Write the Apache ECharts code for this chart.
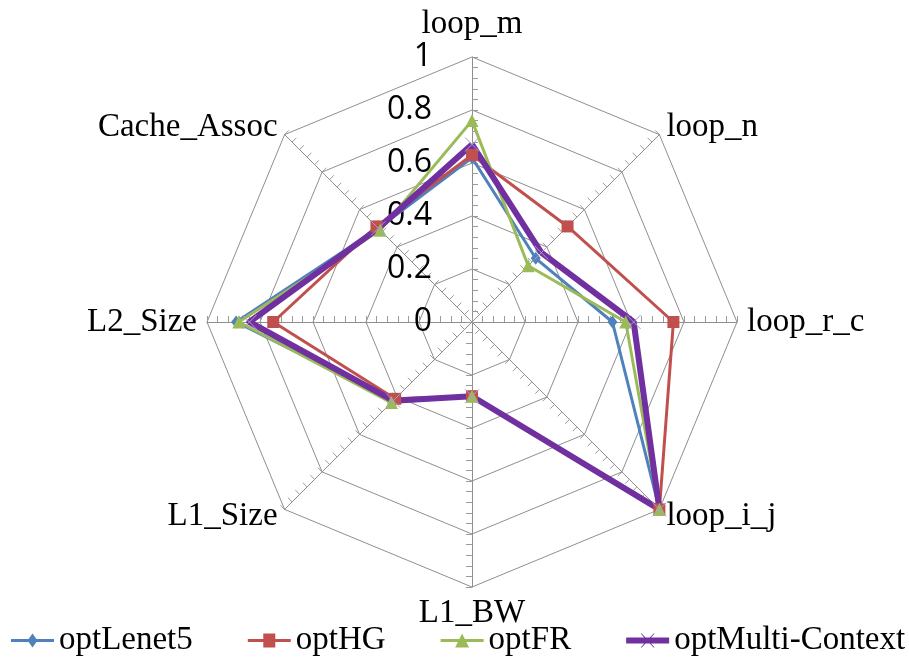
<!DOCTYPE html>
<html><head><meta charset="utf-8">
<script src="https://cdn.jsdelivr.net/npm/echarts@6/dist/echarts.min.js"></script>
<style>html,body{margin:0;padding:0;background:#fff}#c{width:909px;height:658px}</style>
</head><body><div id="c"></div>
<script>
// Axes in clockwise order starting from the top
const categories = ['loop_m', 'loop_n', 'loop_r_c', 'loop_i_j', 'L1_BW', 'L1_Size', 'L2_Size', 'Cache_Assoc'];
const optLenet5 = [0.62, 0.34, 0.53, 1.00, 0.28, 0.42, 0.89, 0.50];
const optHG = [0.63, 0.51, 0.76, 1.00, 0.28, 0.41, 0.75, 0.51];
const optFR = [0.76, 0.30, 0.58, 1.00, 0.28, 0.43, 0.88, 0.49];
const optMultiContext = [0.67, 0.37, 0.61, 1.00, 0.28, 0.42, 0.84, 0.50];
const seriesNames = ['optLenet5', 'optHG', 'optFR', 'optMulti-Context'];
const scaleLabels = ['0', '0.2', '0.4', '0.6', '0.8', '1'];

// ECharts places radar indicators counter-clockwise; reorder to draw clockwise
const order = [0, 7, 6, 5, 4, 3, 2, 1];
const re = arr => order.map(i => arr[i]);

const serif = 'Liberation Serif';
const gridColor = '#8f8f8f';
// side of the minor tick marks for each axis (clockwise order)
const tickSide = [-1, 1, 1, -1, -1, -1, -1, -1];

const indicatorsMain = re(categories).map((n, i) => {
  const o = { name: n, min: 0, max: 1 };
  if (i === 0) o.axisLabel = { show: true };
  return o;
});
const sideRe = re(tickSide);
const indicatorsTicks = re(categories).map((n, i) => ({ name: n, min: 0, max: 1, axisTick: { length: 6 * sideRe[i] } }));

const xPath = 'path://M0,0L10,10M10,0L0,10';
const legendText = {
  fontFamily: serif, fontSize: 33, color: '#000',
  rich: { s: { fontFamily: serif, fontSize: 33, color: '#000' } }
};

const chart = echarts.init(document.getElementById('c'), null, { renderer: 'canvas' });
chart.setOption({
  backgroundColor: '#fff',
  animation: false,
  textStyle: { fontFamily: serif },
  legend: {
    type: 'plain',
    orient: 'horizontal',
    left: 6,
    top: 619,
    width: 903,
    itemWidth: 43,
    itemHeight: 14,
    itemGap: 55,
    formatter: name => '{s|' + name + '}',
    textStyle: legendText,
    data: [
      { name: seriesNames[0], icon: 'path://M0,5.5H43V8.5H0Z M21.5,0L26.5,7L21.5,14L16.5,7Z', itemStyle: { color: '#4F81BD', borderWidth: 0 } },
      { name: seriesNames[1], icon: 'path://M0,5.5H43V8.5H0Z M15.5,0H27.5V14H15.5Z', itemStyle: { color: '#C0504D', borderWidth: 0 } },
      { name: seriesNames[2], icon: 'path://M0,5.5H43V8.5H0Z M21.5,0L28.5,14L14.5,14Z', itemStyle: { color: '#9BBB59', borderWidth: 0 } },
      { name: seriesNames[3], icon: 'path://M0,4H43V10H0Z M14.5,0L15.5,0L21.5,6.3L27.5,0L28.5,0L22.2,7L28.5,14L27.5,14L21.5,7.7L15.5,14L14.5,14L20.8,7Z', itemStyle: { color: '#7030A0', borderWidth: 0 } }
    ]
  },
  radar: [
    {
      center: [472, 322],
      radius: 265,
      startAngle: 90,
      shape: 'polygon',
      splitNumber: 5,
      axisName: { color: '#000', fontFamily: serif, fontSize: 33 },
      axisNameGap: 10,
      splitLine: { lineStyle: { color: gridColor, width: 1 } },
      splitArea: { show: false },
      axisLine: { lineStyle: { color: gridColor, width: 1 } },
      axisTick: { show: false },
      axisLabel: {
        show: false,
        color: '#000',
        fontFamily: 'Open Sans',
        fontSize: 32,
        margin: 40,
        formatter: v => scaleLabels[Math.round(v * 5)]
      },
      indicator: indicatorsMain
    },
    {
      center: [472, 322],
      radius: 265,
      startAngle: 90,
      shape: 'polygon',
      splitNumber: 25,
      axisName: { show: false },
      splitLine: { show: false },
      splitArea: { show: false },
      axisLine: { show: false },
      axisTick: { show: true, length: 6, lineStyle: { color: '#9a9a9a', width: 1 } },
      axisLabel: { show: false },
      indicator: indicatorsTicks
    }
  ],
  series: [
    {
      type: 'radar', radarIndex: 0, name: seriesNames[0],
      symbol: 'diamond', symbolSize: [10, 13],
      lineStyle: { color: '#4F81BD', width: 3 },
      itemStyle: { color: '#4F81BD' },
      data: [{ name: seriesNames[0], value: re(optLenet5) }]
    },
    {
      type: 'radar', radarIndex: 0, name: seriesNames[1],
      symbol: 'rect', symbolSize: 12,
      lineStyle: { color: '#C0504D', width: 3 },
      itemStyle: { color: '#C0504D' },
      data: [{ name: seriesNames[1], value: re(optHG) }]
    },
    {
      type: 'radar', radarIndex: 0, name: seriesNames[2],
      symbol: 'triangle', symbolSize: 13,
      lineStyle: { color: '#9BBB59', width: 3 },
      itemStyle: { color: '#9BBB59' },
      data: [{ name: seriesNames[2], value: re(optFR) }]
    },
    {
      type: 'radar', radarIndex: 0, name: seriesNames[3],
      symbol: xPath, symbolSize: 14,
      lineStyle: { color: '#7030A0', width: 6 },
      itemStyle: { color: 'transparent', borderColor: '#A99BD0', borderWidth: 1 },
      data: [{ name: seriesNames[3], value: re(optMultiContext) }]
    }
  ]
});
</script>
</body></html>
